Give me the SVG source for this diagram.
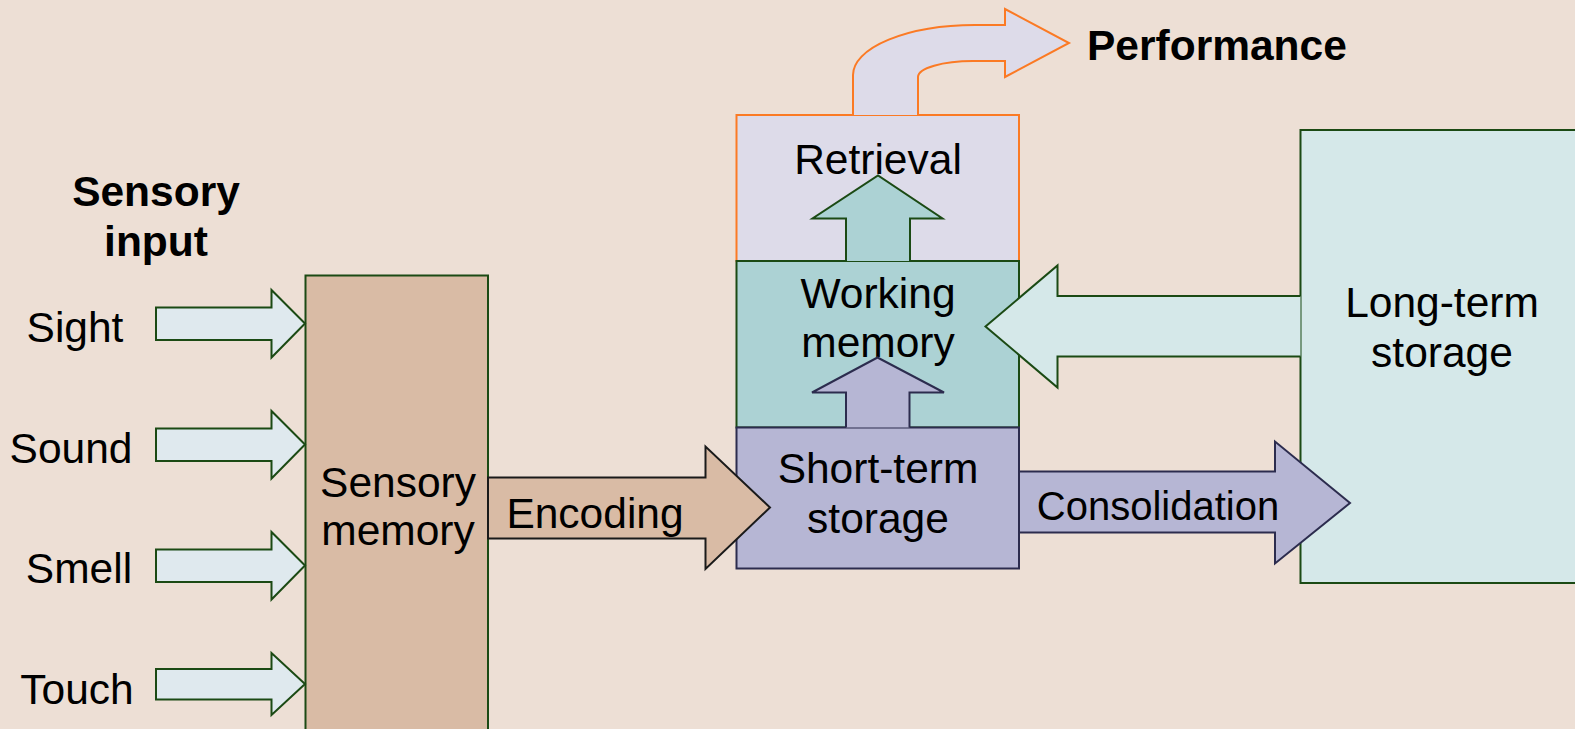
<svg xmlns="http://www.w3.org/2000/svg" width="1575" height="729" viewBox="0 0 1575 729">
  <style>
    text { font-family: "Liberation Sans", Arial, sans-serif; font-size: 42.5px; fill: #000; }
    .c { text-anchor: middle; }
    .b { font-weight: bold; }
    .sm { font-size: 40px; }
    .green { stroke: #1b4a14; stroke-width: 2; }
    .navy { stroke: #2c2c4e; stroke-width: 2; }
    .orange { stroke: #fb7a24; stroke-width: 2; }
    .ink { stroke: #1a1a1a; stroke-width: 2; }
    .sensIn { fill: #dfe9ee; }
    .sensBox { fill: #d9bba5; }
    .retr { fill: #dddbe9; }
    .work { fill: #acd2d4; }
    .short { fill: #b6b6d4; }
    .long { fill: #d5e8e9; }
  </style>

  <rect width="1575" height="729" fill="#eddfd5"/>

  <!-- heading -->
  <g id="sensory-input-title">
    <text class="c b" x="156" y="206">Sensory</text>
    <text class="c b" x="156" y="256">input</text>
  </g>

  <!-- sensory labels -->
  <g id="label-sight"><text class="c" x="75" y="342">Sight</text></g>
  <g id="label-sound"><text class="c" x="71" y="463">Sound</text></g>
  <g id="label-smell"><text class="c" x="79" y="583">Smell</text></g>
  <g id="label-touch"><text class="c" x="77" y="704">Touch</text></g>

  <!-- memory stores -->
  <g id="sensory-memory">
    <rect class="sensBox green" x="305.5" y="275.5" width="182.5" height="470"/>
    <text class="c" x="398" y="497">Sensory</text>
    <text class="c" x="398" y="545">memory</text>
  </g>

  <g id="long-term-storage">
    <rect class="long green" x="1300.5" y="130" width="300" height="453"/>
    <text class="c" x="1442" y="317">Long-term</text>
    <text class="c" x="1442" y="367">storage</text>
  </g>

  <g id="retrieval">
    <rect class="retr orange" x="736.5" y="115" width="282.5" height="146"/>
    <text class="c" x="878" y="174">Retrieval</text>
  </g>

  <g id="working-memory">
    <rect class="work green" x="736.5" y="261" width="282.5" height="166.5"/>
    <text class="c" x="878" y="308">Working</text>
    <text class="c" x="878" y="357">memory</text>
  </g>

  <g id="short-term-storage">
    <rect class="short navy" x="736.5" y="427.5" width="282.5" height="141"/>
  </g>

  <!-- block arrows -->
  <g id="connectors">
    <!-- senses into sensory memory -->
    <path class="sensIn green" d="M156,307.5 H271.5 V290 L305,323.5 L271.5,357.5 V340 H156 Z"/>
    <path class="sensIn green" d="M156,428.5 H271.5 V411 L305,444.5 L271.5,478.5 V461 H156 Z"/>
    <path class="sensIn green" d="M156,549.5 H271.5 V532 L305,565.5 L271.5,599.5 V582 H156 Z"/>
    <path class="sensIn green" d="M156,669 H271.5 V653 L305,684 L271.5,715 V699.5 H156 Z"/>

    <!-- encoding -->
    <path class="sensBox ink" d="M488,477.5 H705.5 V446.5 L770,507.5 L705.5,569 V538.5 H488 Z"/>

    <!-- short-term up to working memory -->
    <path class="short navy" d="M846,427.5 V392.5 H812 L877.5,357.5 L944,392.5 H909.5 V427.5"/>

    <!-- working memory up to retrieval -->
    <path class="work green" d="M846,261 V218.5 H812.5 L878,175.5 L942.5,218.5 H910 V261"/>

    <!-- long-term back to working memory -->
    <path class="long green" d="M1300.5,296 H1057.5 V265.5 L985.5,326.5 L1057.5,387.5 V356.5 H1300.5"/>

    <!-- consolidation -->
    <path class="short navy" d="M1019,471.5 H1275 V441.5 L1350,503 L1275,563.5 V532.5 H1019 Z"/>

    <!-- retrieval out to performance -->
    <path class="retr orange" d="M853,115 V75 A122,50 0 0 1 975,25 H1005 V9 L1069,43 L1005,77 V61 H973 A55,16 0 0 0 918,77 V115"/>
  </g>

  <!-- text over arrows -->
  <g id="short-term-label">
    <text class="c" x="878" y="483">Short-term</text>
    <text class="c" x="878" y="533">storage</text>
  </g>
  <g id="encoding-label"><text class="c" x="595" y="528">Encoding</text></g>
  <g id="consolidation-label"><text class="c sm" x="1158" y="520">Consolidation</text></g>

  <g id="performance">
    <text class="b" x="1087" y="60">Performance</text>
  </g>
</svg>
